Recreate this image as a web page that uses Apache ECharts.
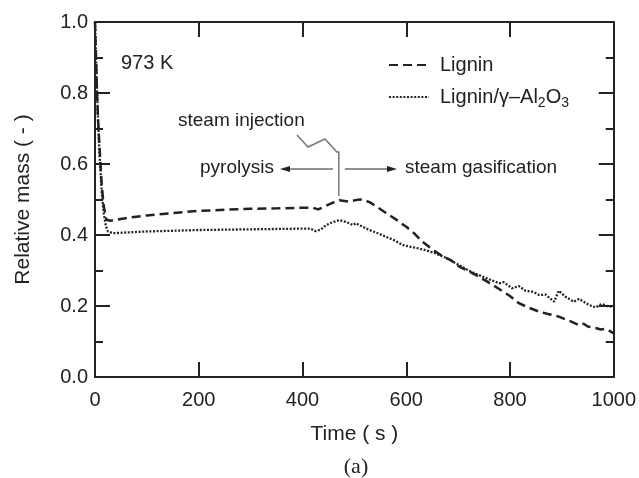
<!DOCTYPE html>
<html>
<head>
<meta charset="utf-8">
<script src="https://cdn.jsdelivr.net/npm/echarts@6/dist/echarts.min.js"></script>
<style>html,body{margin:0;padding:0;background:#fff;}#c{width:639px;height:478px;}</style>
</head>
<body>
<div id="c"></div>
<script>
// ---- data ----
const ligninTime = [0,2,4,6,9,13,17,22,30,40,70,100,150,200,250,300,350,400,420,430,445,460,471,490,505,516,530,545,561,580,600,615,631,650,669,685,702,720,740,760,779,800,817,835,856,875,894,915,933,942,950,965,975,985,1000];
const ligninMass = [1.0,0.9,0.8,0.72,0.64,0.54,0.48,0.443,0.44,0.443,0.45,0.455,0.462,0.468,0.471,0.474,0.475,0.477,0.477,0.472,0.482,0.492,0.498,0.494,0.499,0.50,0.492,0.478,0.462,0.444,0.423,0.405,0.381,0.36,0.341,0.33,0.311,0.298,0.283,0.265,0.248,0.228,0.208,0.196,0.184,0.177,0.17,0.158,0.146,0.15,0.142,0.138,0.134,0.136,0.123];
const aluminaTime = [0,2,4,6,9,13,17,21,25,35,60,100,150,200,250,300,350,400,415,425,435,446,458,471,484,497,503,515,529,545,561,577,593,610,625,640,657,679,690,702,720,740,760,779,788,804,817,830,845,856,869,885,894,907,923,933,952,965,977,990,1000];
const aluminaMass = [1.0,0.9,0.8,0.72,0.62,0.52,0.46,0.425,0.41,0.405,0.407,0.41,0.412,0.414,0.415,0.416,0.417,0.418,0.418,0.411,0.415,0.428,0.436,0.442,0.437,0.428,0.433,0.424,0.414,0.405,0.395,0.385,0.372,0.366,0.362,0.356,0.348,0.334,0.325,0.315,0.30,0.287,0.275,0.264,0.267,0.250,0.256,0.243,0.24,0.231,0.232,0.212,0.243,0.226,0.212,0.22,0.203,0.196,0.206,0.198,0.2];
const seriesNames = ['Lignin', 'Lignin/γ–Al2O3'];
const xTicks = [0, 200, 400, 600, 800, 1000];
const yTicks = [0.0, 0.2, 0.4, 0.6, 0.8, 1.0];
const injectionTime = 470;

const FONT = 'Liberation Sans, Arial, Helvetica, sans-serif';
const INK = '#222';
const zip = (a, b) => a.map((t, i) => [t, b[i]]);

const chart = echarts.init(document.getElementById('c'), null, {renderer: 'canvas', width: 639, height: 478});

const axisCommon = {
  axisLine: {onZero: false, lineStyle: {color: INK, width: 2}},
  axisTick: {inside: true, length: 15, lineStyle: {color: INK, width: 2}},
  splitLine: {show: false}
};

chart.setOption({
  animation: false,
  backgroundColor: '#fff',
  grid: {left: 95, right: 24, top: 22, bottom: 101, containLabel: false},
  legend: {
    orient: 'vertical', left: 388, top: 55, itemWidth: 40, itemHeight: 14, itemGap: 12,
    selectedMode: false, padding: 0,
    data: seriesNames,
    itemStyle: {opacity: 0},
    formatter: n => n === seriesNames[1] ? 'Lignin/γ–Al{sub|2}O{sub|3}' : n,
    textStyle: {fontFamily: FONT, fontSize: 20, color: INK, padding: [0,0,0,6],
      rich: {sub: {fontFamily: FONT, fontSize: 14, color: INK, padding: [12,0,0,0]}}}
  },
  xAxis: [
    Object.assign({}, axisCommon, {
      type: 'value', min: xTicks[0], max: xTicks[xTicks.length-1], interval: 200, position: 'bottom',
      axisLabel: {fontFamily: FONT, fontSize: 20, color: INK, margin: 13, formatter: v => String(v)},
      name: 'Time ( s )', nameLocation: 'middle', nameGap: 47,
      nameTextStyle: {fontFamily: FONT, fontSize: 21, color: INK}
    }),
    Object.assign({}, axisCommon, {
      type: 'value', min: xTicks[0], max: xTicks[xTicks.length-1], interval: 200, position: 'top',
      axisLabel: {show: false}
    })
  ],
  yAxis: [
    Object.assign({}, axisCommon, {
      type: 'value', min: yTicks[0], max: yTicks[yTicks.length-1], interval: 0.2, position: 'left',
      minorTick: {show: true, splitNumber: 2, length: 8, lineStyle: {color: INK, width: 2}},
      axisLabel: {fontFamily: FONT, fontSize: 20, color: INK, margin: 7, formatter: v => v.toFixed(1)},
      name: 'Relative mass ( - )', nameLocation: 'middle', nameGap: 61, nameRotate: 90,
      nameTextStyle: {fontFamily: FONT, fontSize: 21, color: INK}
    }),
    Object.assign({}, axisCommon, {
      type: 'value', min: yTicks[0], max: yTicks[yTicks.length-1], interval: 0.2, position: 'right',
      minorTick: {show: true, splitNumber: 2, length: 8, lineStyle: {color: INK, width: 2}},
      axisLabel: {show: false}
    })
  ],
  series: [
    {name: seriesNames[0], type: 'line', data: zip(ligninTime, ligninMass), symbol: 'none', showSymbol: false,
     lineStyle: {color: INK, width: 2.5, type: [9, 5]}, itemStyle: {color: INK}},
    {name: seriesNames[1], type: 'line', data: zip(aluminaTime, aluminaMass), symbol: 'none', showSymbol: false,
     lineStyle: {color: INK, width: 2.3, type: [2, 1.6]}, itemStyle: {color: INK}}
  ]
});

// ---- annotations ----
const xi = chart.convertToPixel({xAxisIndex: 0}, injectionTime);
const ay = 169;
const txt = (x, y, s, size, align, fam) => ({type: 'text', x: x, y: y, silent: true,
  style: {text: s, fontFamily: fam || FONT, fontSize: size, fill: INK, align: align || 'left', verticalAlign: 'middle'}});
const grey = '#777';
chart.setOption({
  graphic: [
    txt(121, 63, '973 K', 20),
    txt(178, 121, 'steam injection', 19),
    txt(200, ay - 1, 'pyrolysis', 19),
    txt(405, ay - 1, 'steam gasification', 19),
    txt(356, 467, '(a)', 22, 'center', 'Liberation Serif, Times New Roman, serif'),
    {type: 'polyline', silent: true, shape: {points: [[297,135],[308,147],[325,139],[xi-2,152],[xi,152],[xi,196]]},
     style: {stroke: grey, lineWidth: 1.5, fill: null}},
    {type: 'line', silent: true, shape: {x1: xi - 6, y1: ay, x2: 288, y2: ay}, style: {stroke: INK, lineWidth: 1.2}},
    {type: 'polygon', silent: true, shape: {points: [[280, ay], [290, ay - 3], [290, ay + 3]]}, style: {fill: INK}},
    {type: 'line', silent: true, shape: {x1: xi + 6, y1: ay, x2: 389, y2: ay}, style: {stroke: INK, lineWidth: 1.2}},
    {type: 'polygon', silent: true, shape: {points: [[397, ay], [387, ay - 3], [387, ay + 3]]}, style: {fill: INK}}
  ]
});
</script>
</body>
</html>
